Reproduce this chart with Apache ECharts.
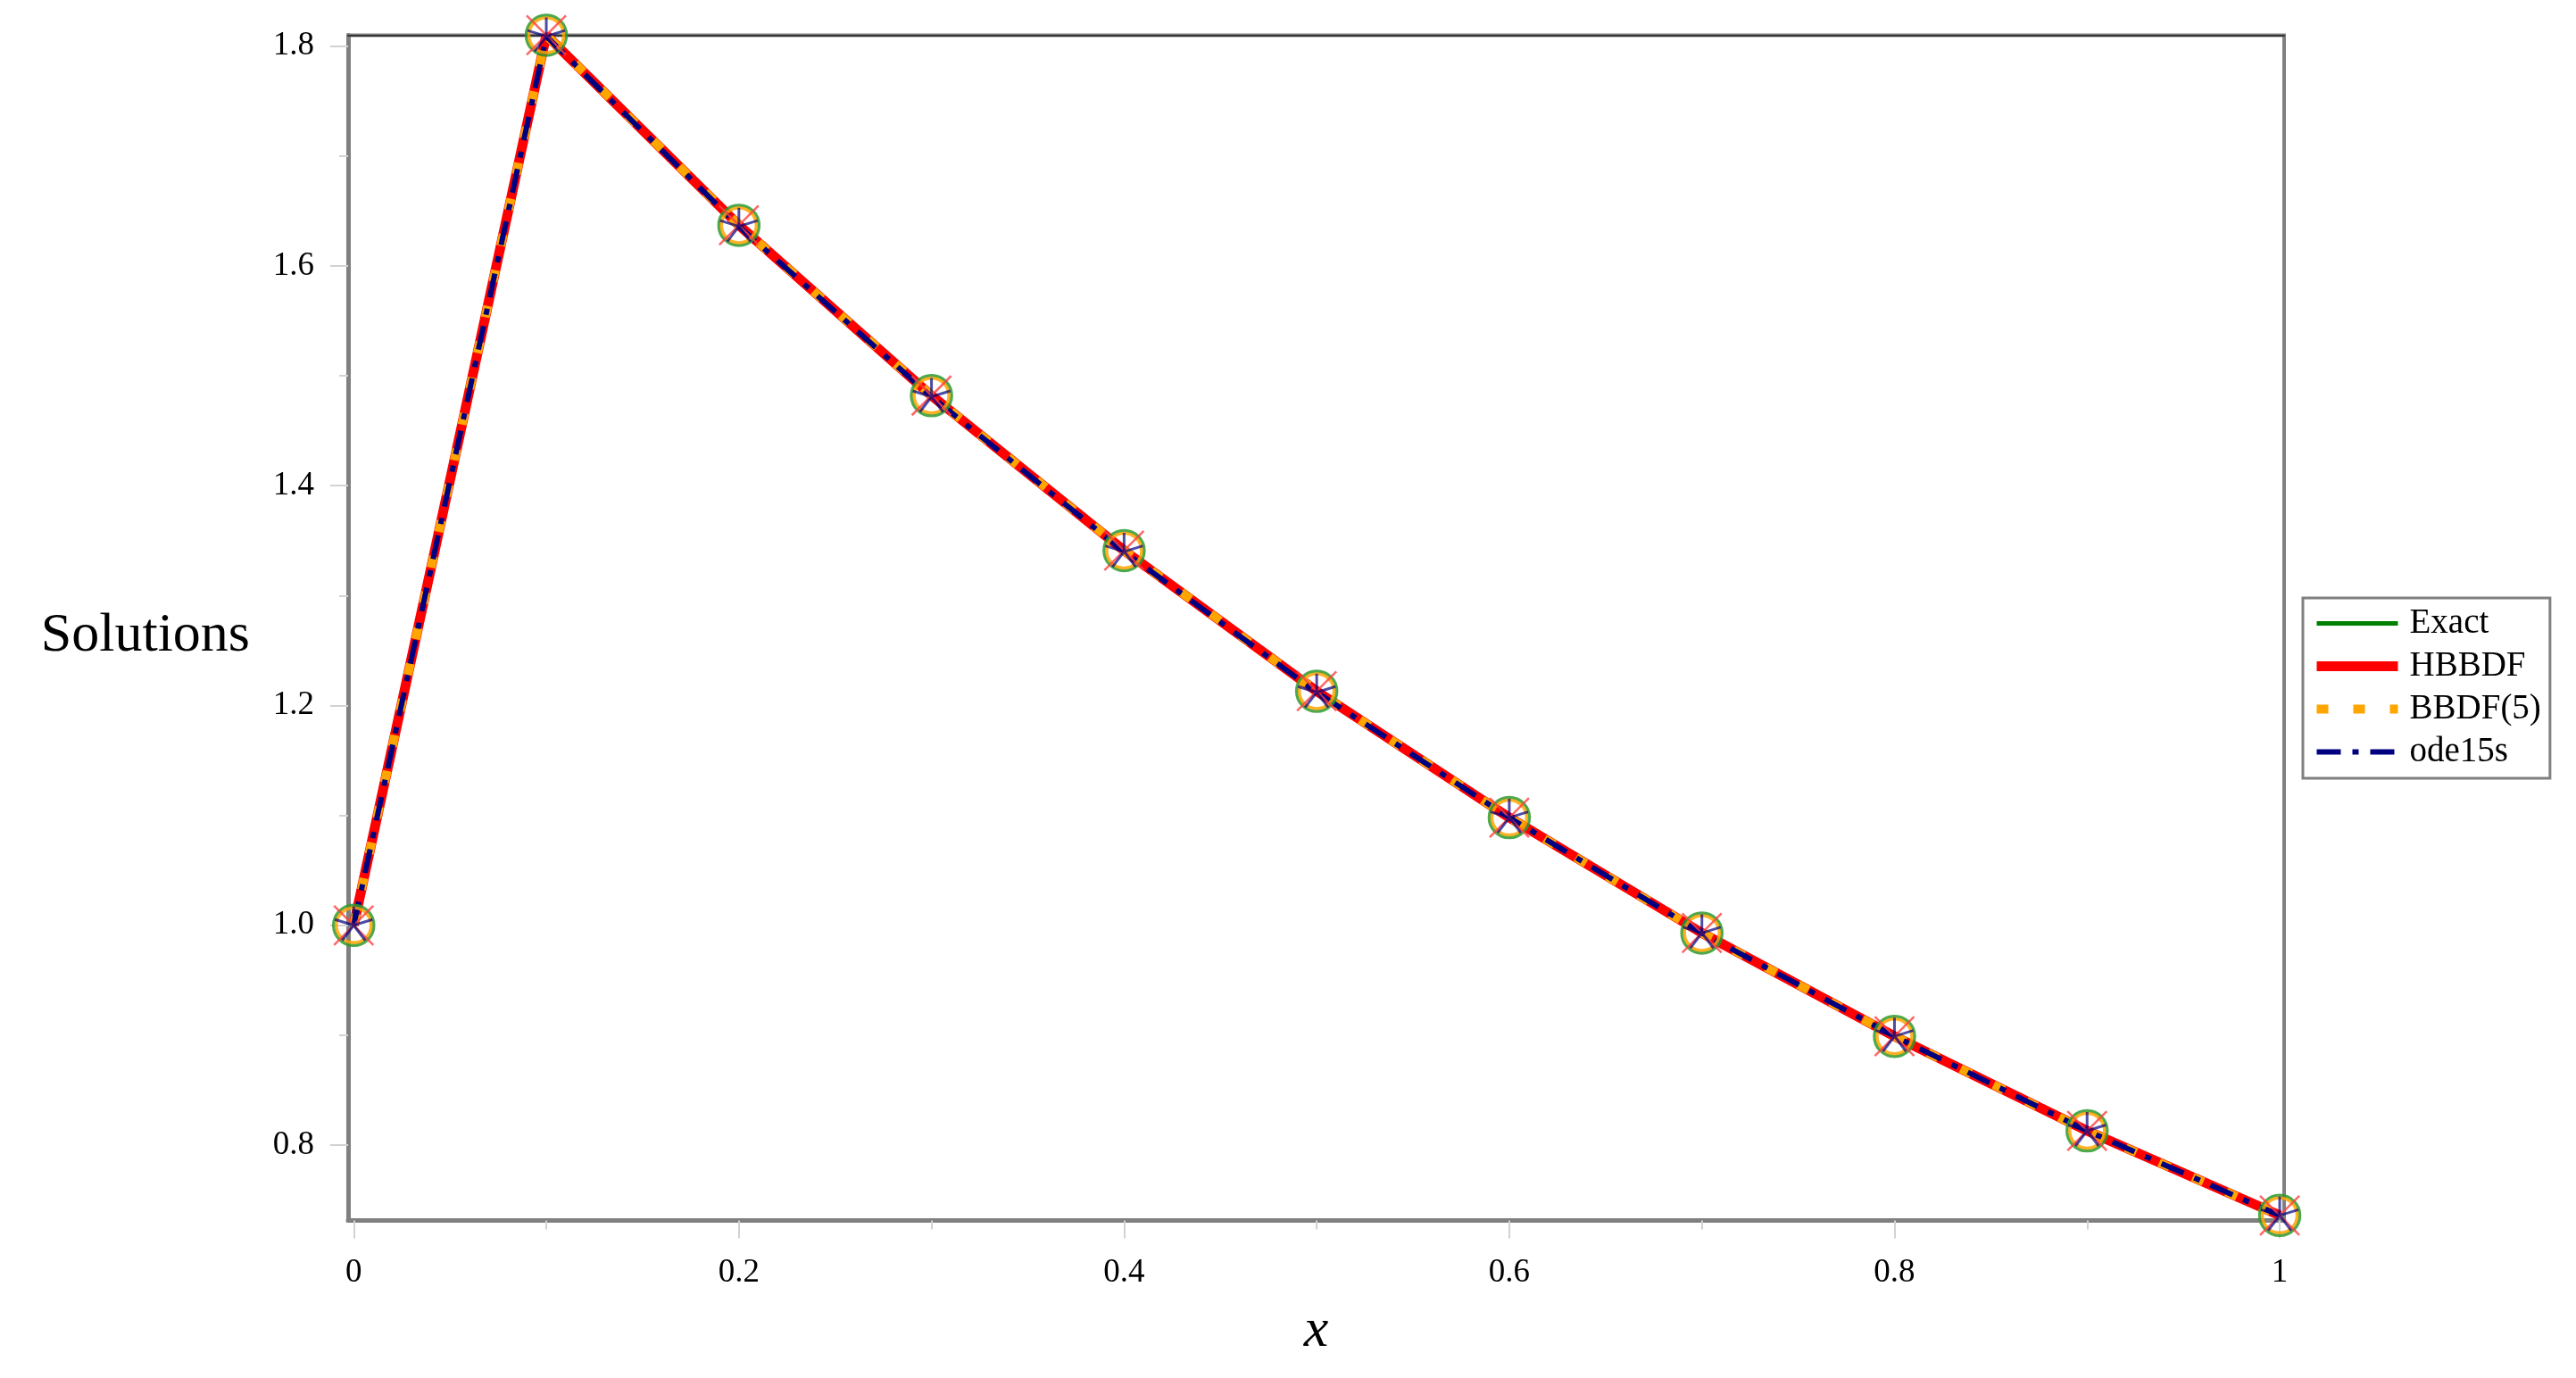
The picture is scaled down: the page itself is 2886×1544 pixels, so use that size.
<!DOCTYPE html>
<html>
<head>
<meta charset="utf-8">
<script src="https://cdn.jsdelivr.net/npm/echarts@6/dist/echarts.min.js"></script>
<style>
  html, body { margin: 0; padding: 0; background: #ffffff; }
  #chart { width: 2886px; height: 1544px; }
</style>
</head>
<body>
<div id="chart"></div>
<script>
// ---- data ----
const xValues   = [0, 0.1, 0.2, 0.3, 0.4, 0.5, 0.6, 0.7, 0.8, 0.9, 1.0];
const exact     = [1.000, 1.810, 1.637, 1.482, 1.341, 1.213, 1.098, 0.993, 0.899, 0.813, 0.736];
const hbbdf     = [1.000, 1.810, 1.637, 1.482, 1.341, 1.213, 1.098, 0.993, 0.899, 0.813, 0.736];
const bbdf5     = [1.000, 1.810, 1.637, 1.482, 1.341, 1.213, 1.098, 0.993, 0.899, 0.813, 0.736];
const ode15s    = [1.000, 1.809, 1.636, 1.481, 1.340, 1.212, 1.098, 0.993, 0.899, 0.813, 0.736];
const seriesNames = ['Exact', 'HBBDF', 'BBDF(5)', 'ode15s'];

// ---- axis ticks ----
const xMajorTicks = [0, 0.2, 0.4, 0.6, 0.8, 1];
const xMinorTicks = [0.1, 0.3, 0.5, 0.7, 0.9];
const yMajorTicks = [0.8, 1.0, 1.2, 1.4, 1.6, 1.8];
const yMinorTicks = [0.9, 1.1, 1.3, 1.5, 1.7];
const xRange = [-0.0029, 1.0023];
const yRange = [0.7314, 1.8099];

const pair = (ys) => xValues.map((x, i) => [x, ys[i]]);

const FONT = "'Liberation Serif', 'Times New Roman', serif";
const GREY = '#808080';
const TICK = '#d2d2d2';

const chart = echarts.init(document.getElementById('chart'), null, { renderer: 'canvas' });

const starPath = 'path://M0,-10L0,0M9.511,-3.09L0,0M5.878,8.09L0,0M-5.878,8.09L0,0M-9.511,-3.09L0,0M0,10L0,10';
const xPath = 'path://M0,0L10,10M10,0L0,10';

const option = {
  animation: false,
  backgroundColor: '#ffffff',
  grid: {
    left: 390, top: 39.5, width: 2169, height: 1328,
    show: true, borderColor: GREY, borderWidth: 4, backgroundColor: 'transparent'
  },
  legend: {
    data: seriesNames,
    orient: 'vertical',
    left: 2580, top: 670,
    padding: [9, 10, 10, 10],
    itemGap: 9,
    itemWidth: 91,
    itemHeight: 14,
    borderColor: GREY,
    borderWidth: 3,
    backgroundColor: '#ffffff',
    itemStyle: { opacity: 0 },
    lineStyle: { width: 'inherit' },
    textStyle: { fontFamily: FONT, fontSize: 39, color: '#000', padding: [0, 0, 0, 8] }
  },
  xAxis: [
    {
      type: 'value', min: xRange[0], max: xRange[1], position: 'bottom',
      axisLine: { show: true, onZero: false, lineStyle: { color: GREY, width: 5 } },
      axisTick: { show: true, customValues: xMajorTicks, length: 20, lineStyle: { color: TICK, width: 2 } },
      axisLabel: {
        show: true, customValues: xMajorTicks, margin: 40,
        fontFamily: FONT, fontSize: 37, color: '#000',
        formatter: (v) => String(Math.round(v * 10) / 10)
      },
      splitLine: { show: false },
      name: 'x', nameLocation: 'middle', nameGap: 93,
      nameTextStyle: { fontFamily: FONT, fontSize: 62, fontStyle: 'italic', color: '#000' }
    },
    {
      type: 'value', min: xRange[0], max: xRange[1], position: 'bottom',
      axisLine: { show: false, onZero: false },
      axisTick: { show: true, customValues: xMinorTicks, length: 10, lineStyle: { color: TICK, width: 2 } },
      axisLabel: { show: false },
      splitLine: { show: false }
    },
    {
      type: 'value', min: xRange[0], max: xRange[1], position: 'top',
      axisLine: { show: true, onZero: false, lineStyle: { color: '#333333', width: 2 } },
      axisTick: { show: false },
      axisLabel: { show: false },
      splitLine: { show: false }
    }
  ],
  yAxis: [
    {
      type: 'value', min: yRange[0], max: yRange[1], position: 'left',
      axisLine: { show: true, onZero: false, lineStyle: { color: GREY, width: 5 } },
      axisTick: { show: true, customValues: yMajorTicks, length: 20, lineStyle: { color: TICK, width: 2 } },
      axisLabel: {
        show: true, customValues: yMajorTicks, margin: 38,
        fontFamily: FONT, fontSize: 37, color: '#000',
        formatter: (v) => v.toFixed(1)
      },
      splitLine: { show: false },
      name: 'Solutions', nameLocation: 'middle', nameRotate: 0, nameGap: 110,
      nameTextStyle: {
        fontFamily: FONT, fontSize: 62, color: '#000',
        verticalAlign: 'top', lineHeight: 18
      }
    },
    {
      type: 'value', min: yRange[0], max: yRange[1], position: 'left',
      axisLine: { show: false, onZero: false },
      axisTick: { show: true, customValues: yMinorTicks, length: 10, lineStyle: { color: TICK, width: 2 } },
      axisLabel: { show: false },
      splitLine: { show: false }
    }
  ],
  series: [
    {
      name: 'Exact', type: 'line', data: pair(exact), symbol: 'none', clip: false,
      lineStyle: { color: '#008000', width: 5 }, itemStyle: { color: '#008000' }, z: 2
    },
    {
      name: 'HBBDF', type: 'line', data: pair(hbbdf), symbol: 'none', clip: false,
      lineStyle: { color: '#ff0000', width: 11 }, itemStyle: { color: '#ff0000' }, z: 3
    },
    {
      name: 'BBDF(5)', type: 'line', data: pair(bbdf5), symbol: 'none', clip: false,
      lineStyle: { color: '#ffa500', width: 10, type: [13, 28], cap: 'butt' }, itemStyle: { color: '#ffa500' }, z: 4
    },
    {
      name: 'ode15s', type: 'line', data: pair(ode15s), symbol: 'none', clip: false,
      lineStyle: { color: '#000080', width: 6, type: [27, 13, 7, 13], cap: 'butt' }, itemStyle: { color: '#000080' }, z: 5
    },
    // point markers for each series
    {
      name: 'Exact points', type: 'scatter', data: pair(exact), clip: false,
      symbol: 'circle', symbolSize: 45,
      itemStyle: { color: 'transparent', borderColor: '#2e9a2e', borderWidth: 3.5, opacity: 0.85 }, z: 6
    },
    {
      name: 'BBDF(5) points', type: 'scatter', data: pair(bbdf5), clip: false,
      symbol: 'circle', symbolSize: 39,
      itemStyle: { color: 'transparent', borderColor: '#ffa500', borderWidth: 3.5, opacity: 0.85 }, z: 6
    },
    {
      name: 'HBBDF points', type: 'scatter', data: pair(hbbdf), clip: false,
      symbol: xPath, symbolSize: 44,
      itemStyle: { color: 'transparent', borderColor: '#ff4040', borderWidth: 2.5, opacity: 0.8 }, z: 7
    },
    {
      name: 'ode15s points', type: 'scatter', data: pair(ode15s), clip: false,
      symbol: starPath, symbolSize: 42,
      itemStyle: { color: 'transparent', borderColor: '#000080', borderWidth: 3, opacity: 0.7 }, z: 7
    }
  ]
};

chart.setOption(option);
</script>
</body>
</html>
